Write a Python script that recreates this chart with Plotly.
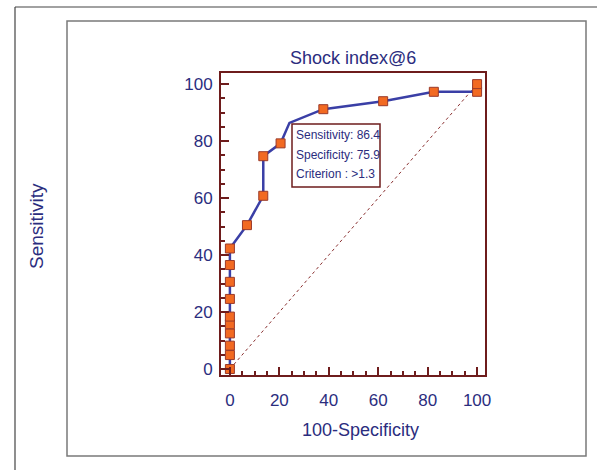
import plotly.graph_objects as go

# ROC curve points (100-Specificity, Sensitivity)
fpr = [0, 0, 0, 0, 0, 0, 0, 0, 0, 0, 0, 6.9, 13.5, 13.5, 20.5, 24.1, 37.8, 62.0, 82.5, 100, 100]
tpr = [0, 4.9, 8.2, 12.5, 15.7, 18.4, 24.6, 30.6, 36.5, 42.3, 42.3, 50.5, 60.8, 74.7, 79.2, 86.4, 91.2, 94.0, 97.3, 97.3, 100]
# which points carry a marker (the criterion point has none)
marked = [True, True, True, True, True, True, True, True, True, True, False, True, True, True, True, False, True, True, True, True, True]
diag_x = [0, 100]
diag_y = [0, 100]

title = "Shock index@6"
x_title = "100-Specificity"
y_title = "Sensitivity"
box_lines = ["Sensitivity: 86.4", "Specificity: 75.9", "Criterion : >1.3"]
tick_vals = [0, 20, 40, 60, 80, 100]

navy = "#2b2d7e"
maroon = "#6e1c1c"
font_family = "Liberation Sans, Arial, sans-serif"

W, H = 597, 470
L, R, T, B = 221, 485, 73, 375  # plot frame in pixels


def px(x):
    return (x - L) / (R - L)


def py(y):
    return (B - y) / (B - T)


fig = go.Figure()
fig.add_trace(go.Scatter(x=diag_x, y=diag_y, mode="lines",
                         line=dict(color="#8a3030", width=1, dash="dot"),
                         hoverinfo="skip", showlegend=False))
fig.add_trace(go.Scatter(x=fpr, y=tpr, mode="lines",
                         line=dict(color="#3a3fa6", width=2.5),
                         showlegend=False))
mx = [a for a, m in zip(fpr, marked) if m]
my = [b for b, m in zip(tpr, marked) if m]
fig.add_trace(go.Scatter(x=mx, y=my, mode="markers",
                         marker=dict(symbol="square", size=9, color="#f26a22",
                                     line=dict(color="#9a3a2a", width=1)),
                         showlegend=False))

axis_common = dict(
    showgrid=False, zeroline=False, showline=True, linecolor=maroon, linewidth=2,
    mirror=True, ticks="inside", ticklen=8, tickwidth=2, tickcolor=maroon,
    tickvals=tick_vals, tickfont=dict(family=font_family, size=17, color=navy),
    minor=dict(dtick=5, ticks="inside", ticklen=4, tickwidth=1.5, tickcolor=maroon),
)
fig.update_xaxes(range=[-3.6, 103.2], ticklabelstandoff=9, **axis_common)
fig.update_yaxes(range=[-2.1, 103.9], ticklabelstandoff=3, **axis_common)

shapes = [
    # outer frame (left and top lines)
    dict(type="line", xref="paper", yref="paper", x0=px(15), y0=py(7), x1=px(15), y1=py(470),
         line=dict(color="#444444", width=1.2)),
    dict(type="line", xref="paper", yref="paper", x0=px(15), y0=py(7), x1=px(597), y1=py(7),
         line=dict(color="#444444", width=1.2)),
    # inner frame
    dict(type="rect", xref="paper", yref="paper", x0=px(67), y0=py(21), x1=px(586), y1=py(456),
         line=dict(color="#7a7a7a", width=1.5)),
    # criterion box
    dict(type="rect", xref="paper", yref="paper", x0=px(292), y0=py(124), x1=px(380), y1=py(187),
         line=dict(color=maroon, width=1.5), fillcolor="white", layer="above"),
]

annotations = [
    dict(text=title, xref="paper", yref="paper", x=px(353), y=py(58), showarrow=False,
         font=dict(family=font_family, size=18, color=navy), xanchor="center", yanchor="middle"),
    dict(text=x_title, xref="paper", yref="paper", x=px(360), y=py(430), showarrow=False,
         font=dict(family=font_family, size=18, color=navy), xanchor="center", yanchor="middle"),
    dict(text=y_title, xref="paper", yref="paper", x=px(36), y=py(226), showarrow=False,
         textangle=-90, font=dict(family=font_family, size=19, color=navy),
         xanchor="center", yanchor="middle"),
]
for i, line in enumerate(box_lines):
    annotations.append(dict(text=line, xref="paper", yref="paper", x=px(294), y=py(135 + 19.5 * i),
                            showarrow=False, xanchor="left", yanchor="middle", align="left",
                            font=dict(family=font_family, size=12, color=navy)))

fig.update_layout(
    width=W, height=H,
    margin=dict(l=L, r=W - R, t=T, b=H - B),
    paper_bgcolor="white", plot_bgcolor="white",
    shapes=shapes, annotations=annotations,
)

fig.write_html("out.html", config={"displayModeBar": False},
               post_script="document.body.style.margin='0';document.body.style.overflow='hidden';")
